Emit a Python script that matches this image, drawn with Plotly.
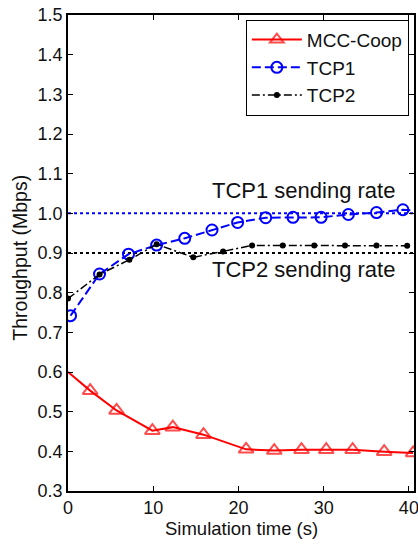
import plotly.graph_objects as go

# MCC-Coop
mcc_x = [0, 2.6, 5.7, 9.9, 12.3, 15.9, 20.9, 24.2, 27.4, 30.3, 33.4, 37.1, 40.5]
mcc_y = [0.60, 0.553, 0.503, 0.452, 0.461, 0.442, 0.405, 0.402, 0.404, 0.404, 0.404, 0.399, 0.396]

# TCP1
tcp1_x = [0.3, 3.7, 7.1, 10.4, 13.7, 16.9, 19.9, 23.2, 26.4, 29.7, 32.9, 36.2, 39.3, 42.5]
tcp1_y = [0.742, 0.847, 0.897, 0.920, 0.937, 0.958, 0.977, 0.989, 0.990, 0.990, 0.997, 1.002, 1.009, 1.004]

# TCP2
tcp2_x = [0, 3.7, 7.2, 10.4, 14.7, 18.2, 21.6, 25.2, 28.9, 32.5, 36.2, 39.8]
tcp2_y = [0.785, 0.846, 0.883, 0.922, 0.889, 0.904, 0.919, 0.919, 0.919, 0.919, 0.919, 0.918]

# sending rate reference levels
rate_levels = [1.0, 0.9]
rate_labels = ["TCP1 sending rate", "TCP2 sending rate"]
rate_label_y = [1.057, 0.858]
rate_label_x = 27.6

x_ticks = [0, 10, 20, 30, 40]
y_ticks = [0.3, 0.4, 0.5, 0.6, 0.7, 0.8, 0.9, 1.0, 1.1, 1.2, 1.3, 1.4, 1.5]

x_range = [0, 40.6]
y_range = [0.3, 1.5]

FONT = "Liberation Sans, Arial, sans-serif"
TXT = "#111111"

fig = go.Figure()

# reference lines
fig.add_trace(go.Scatter(x=x_range, y=[rate_levels[0]] * 2, mode="lines",
                         line=dict(color="#0000ff", width=2, dash="dot"),
                         showlegend=False, hoverinfo="skip"))
fig.add_trace(go.Scatter(x=x_range, y=[rate_levels[1]] * 2, mode="lines",
                         line=dict(color="black", width=2, dash="dot"),
                         showlegend=False, hoverinfo="skip"))

mcc_sizes = [0] + [13] * (len(mcc_x) - 1)
fig.add_trace(go.Scatter(x=mcc_x, y=mcc_y, mode="lines+markers", name="MCC-Coop",
                         line=dict(color="#ff0000", width=2),
                         marker=dict(symbol="triangle-up-open", size=mcc_sizes,
                                     color="#ff0000", line=dict(width=2, color="#ff0000"))))
fig.add_trace(go.Scatter(x=tcp1_x, y=tcp1_y, mode="lines+markers", name="TCP1",
                         line=dict(color="#0000ff", width=2, dash="9px,4px"),
                         marker=dict(symbol="circle-open", size=11,
                                     color="#0000ff", line=dict(width=2, color="#0000ff"))))
fig.add_trace(go.Scatter(x=tcp2_x, y=tcp2_y, mode="lines+markers", name="TCP2",
                         line=dict(color="black", width=1.5, dash="8px,3px,2px,3px"),
                         marker=dict(symbol="circle", size=6, color="black")))

for lab, ly in zip(rate_labels, rate_label_y):
    fig.add_annotation(x=rate_label_x, y=ly, text=lab, showarrow=False,
                       font=dict(family=FONT, size=22, color=TXT),
                       xanchor="center", yanchor="middle")

# axis titles
fig.add_annotation(x=0.5, y=-0.079, xref="paper", yref="paper",
                   text="Simulation time (s)", showarrow=False,
                   font=dict(family=FONT, size=18.5, color=TXT),
                   xanchor="center", yanchor="middle")
fig.add_annotation(x=-0.139, y=0.49, xref="paper", yref="paper",
                   text="Throughput (Mbps)", showarrow=False, textangle=-90,
                   font=dict(family=FONT, size=19.5, color=TXT),
                   xanchor="center", yanchor="middle")

axis_common = dict(showline=True, linecolor="black", linewidth=1.5, mirror="ticks",
                   ticks="inside", ticklen=5, tickwidth=1, tickcolor="black",
                   showgrid=False, zeroline=False, automargin=False,
                   ticklabeloverflow="allow",
                   tickfont=dict(family=FONT, size=18, color=TXT))

fig.update_xaxes(range=x_range, tickvals=x_ticks, **axis_common)
fig.update_yaxes(range=y_range, tickvals=y_ticks, tickformat=".1f", **axis_common)

fig.update_layout(
    width=418, height=546,
    margin=dict(l=68, r=4, t=15, b=55),
    paper_bgcolor="white", plot_bgcolor="white",
    font=dict(family=FONT, size=18, color=TXT),
    legend=dict(x=0.514, y=0.99, xanchor="left", yanchor="top",
                bgcolor="white", bordercolor="black", borderwidth=1,
                font=dict(family=FONT, size=19, color=TXT),
                itemwidth=50, tracegroupgap=0),
    showlegend=True,
)

fig.write_html("out.html",
               config={"displayModeBar": False},
               post_script="document.body.style.margin='0';document.body.style.overflow='hidden';")
